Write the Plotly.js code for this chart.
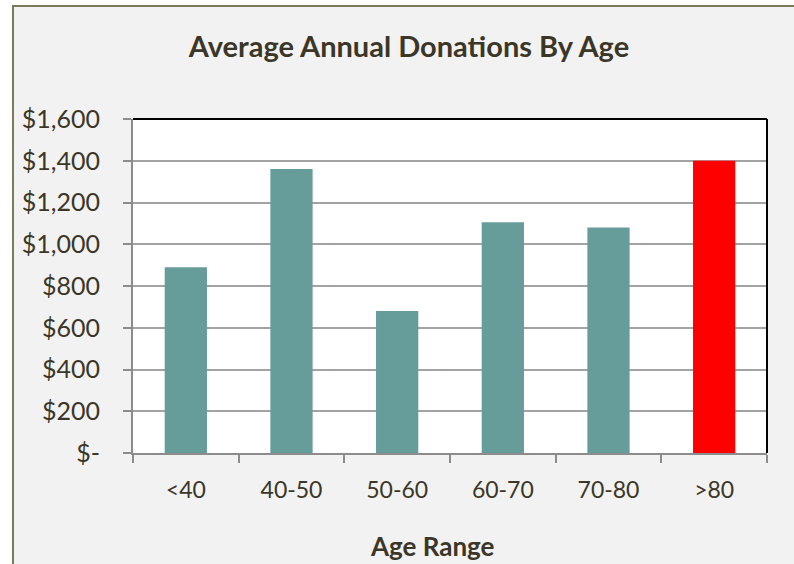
<!DOCTYPE html>
<html>
<head>
<meta charset="utf-8">
<script src="https://cdn.plot.ly/plotly-3.0.1.min.js"></script>
<style>
  html, body { margin:0; padding:0; background:#ffffff; overflow:hidden; width:794px; height:564px; }
  #frame { position:absolute; left:12px; top:5px; width:820px; height:620px; border:2px solid #7b7b5b; background:#f2f2f2; box-sizing:border-box; }
  #chart { position:absolute; left:0; top:0; width:794px; height:564px; }
</style>
</head>
<body>
<div id="frame"></div>
<div id="chart"></div>
<script>
const categories = ["<40", "40-50", "50-60", "60-70", "70-80", ">80"];
const donations = [890, 1360, 680, 1105, 1080, 1400];
const barColors = ["#669c99", "#669c99", "#669c99", "#669c99", "#669c99", "#ff0000"];
const yTickVals = [0, 200, 400, 600, 800, 1000, 1200, 1400, 1600];
const yTickText = ["$-", "$200", "$400", "$600", "$800", "$1,000", "$1,200", "$1,400", "$1,600"];

const textColor = "#3b3628";
const fontFam = "Lato, 'Open Sans', sans-serif";

const data = [{
  type: "bar",
  x: categories,
  y: donations,
  marker: { color: barColors, line: { width: 0 } },
  hoverinfo: "none"
}];

const layout = {
  width: 794, height: 564,
  margin: { l: 133, r: 27, t: 119, b: 111 },
  paper_bgcolor: "rgba(0,0,0,0)",
  plot_bgcolor: "#ffffff",
  bargap: 0.6,
  showlegend: false,
  font: { family: fontFam, color: textColor, size: 19 },
  title: {
    text: "<b>Average Annual Donations By Age</b>",
    font: { family: fontFam, size: 29, color: textColor },
    x: 409 / 794, xref: "container", xanchor: "center",
    y: 1 - 47 / 564, yref: "container", yanchor: "middle"
  },
  xaxis: {
    type: "category",
    showline: true, linecolor: "#8c8c8c", linewidth: 2,
    ticks: "outside", tickson: "boundaries", ticklen: 8, tickwidth: 2, tickcolor: "#8c8c8c",
    tickfont: { family: fontFam, size: 23, color: textColor },
    ticklabelstandoff: 15,
    showgrid: false, zeroline: false, fixedrange: true
  },
  yaxis: {
    range: [0, 1600],
    tickvals: yTickVals, ticktext: yTickText,
    showline: true, linecolor: "#8c8c8c", linewidth: 2,
    ticks: "outside", ticklen: 8, tickwidth: 2, tickcolor: "#8c8c8c",
    tickfont: { family: fontFam, size: 25, color: textColor },
    ticklabelstandoff: 18,
    showgrid: true, gridcolor: "#a3a3a3", gridwidth: 2,
    zeroline: false, fixedrange: true
  },
  shapes: [
    { type: "line", xref: "paper", yref: "paper", x0: 0, x1: 1, y0: 1, y1: 1, line: { color: "#000000", width: 2 } },
    { type: "line", xref: "paper", yref: "paper", x0: 1, x1: 1, y0: 0, y1: 1, line: { color: "#000000", width: 2 } }
  ],
  annotations: [{
    text: "<b>Age Range</b>",
    xref: "paper", yref: "paper",
    x: (432 - 133) / 634, y: (453 - 546) / 334,
    xanchor: "center", yanchor: "middle",
    showarrow: false,
    font: { family: fontFam, size: 26, color: textColor }
  }]
};

Plotly.newPlot("chart", data, layout, { displayModeBar: false, staticPlot: true });
</script>
</body>
</html>
